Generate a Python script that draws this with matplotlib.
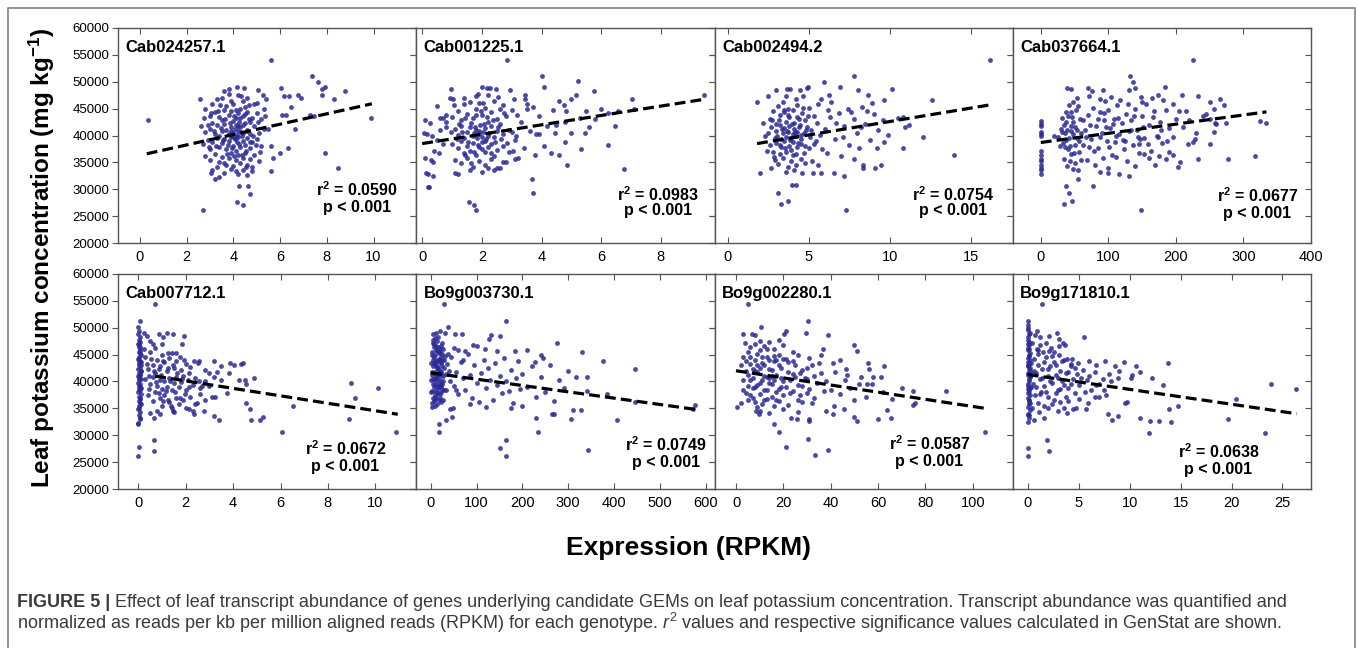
import matplotlib
matplotlib.use("Agg")
import matplotlib.lines as mlines
import matplotlib.pyplot as plt
import numpy as np

plt.rcParams['font.family'] = ['Liberation Sans', 'DejaVu Sans']
plt.rcParams['mathtext.fontset'] = 'custom'
plt.rcParams['mathtext.rm'] = 'Liberation Sans'
plt.rcParams['mathtext.it'] = 'Liberation Sans:italic'
plt.rcParams['mathtext.bf'] = 'Liberation Sans:bold'

# points: (expression in RPKM, leaf K in 1000 mg kg-1)
cab024257_1 = [
    (0.33, 42.8), (2.7, 26.2), (5.6, 54.1), (7.36, 51.0), (7.61, 50.0), (7.79, 48.7), (7.93, 49.1),
    (7.81, 47.6), (8.31, 46.8), (8.8, 48.2), (9.89, 43.3), (7.93, 36.8), (8.5, 34.0), (6.03, 48.9),
    (6.17, 47.3), (6.37, 47.3), (6.76, 47.6), (6.9, 46.9), (6.46, 45.3), (6.09, 43.9), (6.26, 43.8),
    (6.64, 41.3), (6.36, 37.6), (6.01, 36.7), (5.6, 38.0), (5.71, 35.8), (5.6, 33.4), (7.26, 43.8),
    (7.47, 43.7), (4.23, 30.6), (4.61, 30.6), (4.7, 29.2), (4.14, 27.7), (4.43, 27.1), (3.21, 32.0),
    (3.4, 32.2), (3.04, 33.1), (2.56, 46.7), (3.6, 48.3), (3.81, 48.7), (4.14, 49.1), (4.47, 48.8),
    (5.07, 48.4), (5.27, 47.6), (5.4, 46.7), (5.3, 44.9), (5.37, 43.6), (5.5, 41.3),
    (3.3, 46.8), (3.5, 47.0), (3.9, 46.4), (4.2, 47.6), (4.4, 46.5), (4.6, 46.9), (4.9, 45.8),
    (3.1, 45.9), (3.7, 45.5), (4.0, 45.9), (4.5, 45.3), (5.0, 46.1), (2.8, 44.9), (3.0, 43.7),
    (3.2, 44.3), (3.4, 43.4), (3.6, 44.8), (3.8, 43.9), (3.9, 44.5), (4.1, 43.2), (4.2, 44.1),
    (4.3, 45.0), (4.4, 43.6), (4.6, 44.4), (4.8, 43.3), (5.0, 44.2), (5.2, 43.0), (3.5, 42.9),
    (4.0, 42.7), (4.7, 42.5), (3.1, 42.3), (2.9, 42.0), (2.6, 41.8), (2.8, 40.6), (3.0, 41.2),
    (3.2, 40.3), (3.3, 41.9), (3.5, 40.9), (3.6, 42.2), (3.7, 41.0), (3.8, 40.2), (3.9, 41.6),
    (4.0, 40.4), (4.05, 41.3), (4.1, 42.0), (4.15, 40.1), (4.2, 40.8), (4.3, 41.5), (4.4, 40.4),
    (4.5, 42.3), (4.6, 41.0), (4.7, 40.2), (4.9, 41.7), (5.1, 40.5), (5.3, 41.2), (3.4, 40.0),
    (4.25, 42.6), (2.7, 38.5), (2.9, 39.2), (3.0, 37.4), (3.1, 38.8), (3.3, 39.6), (3.4, 37.9),
    (3.5, 38.6), (3.6, 39.4), (3.7, 37.5), (3.8, 38.9), (3.9, 39.7), (4.0, 38.1), (4.05, 39.3),
    (4.1, 37.2), (4.15, 38.7), (4.2, 39.8), (4.3, 37.8), (4.4, 39.0), (4.5, 38.3), (4.6, 39.5),
    (4.7, 37.6), (4.8, 38.8), (5.0, 39.4), (5.2, 38.0), (3.95, 40.0), (4.35, 39.9), (2.8, 36.2),
    (3.0, 35.4), (3.2, 36.6), (3.4, 35.0), (3.5, 36.0), (3.7, 34.6), (3.8, 35.8), (3.9, 36.7),
    (4.0, 34.3), (4.1, 35.5), (4.2, 36.4), (4.3, 34.9), (4.4, 35.9), (4.5, 36.8), (4.6, 34.5),
    (4.7, 35.6), (4.9, 36.3), (5.1, 35.2), (3.3, 34.2), (4.8, 34.1), (3.1, 33.5), (3.6, 33.0),
    (3.9, 33.8), (4.2, 32.9), (4.4, 33.6), (4.6, 32.6), (4.8, 33.4),
    (3.45, 41.4), (3.55, 39.1), (3.65, 43.1), (3.75, 38.3), (3.85, 42.4), (3.95, 37.7), (4.02, 43.6),
    (4.08, 39.6), (4.12, 44.7), (4.18, 41.8), (4.22, 38.4), (4.28, 43.3), (4.32, 40.6), (4.38, 36.3),
    (4.42, 41.9), (4.48, 44.0), (4.52, 37.1), (4.58, 40.8), (4.65, 43.0), (4.72, 38.7), (3.35, 44.6),
    (3.25, 38.1), (3.15, 40.9), (3.05, 44.1), (2.95, 37.8), (4.85, 40.0), (4.95, 38.2), (5.05, 42.6),
    (3.72, 36.6), (4.02, 36.1), (4.33, 47.3), (3.82, 47.8), (4.68, 45.7), (3.42, 45.6), (5.15, 37.0),
    (2.75, 43.2), (3.58, 34.9), (4.12, 33.4), (4.55, 34.2), (3.88, 40.8),
]

cab001225_1 = [
    (2.85, 54.1), (4.0, 51.0), (5.21, 50.1), (0.95, 48.7), (1.99, 49.1), (2.17, 48.9), (2.28, 48.8),
    (2.48, 48.7), (4.1, 49.1), (5.75, 48.3), (9.45, 47.5), (7.02, 46.7), (7.09, 45.0), (5.99, 44.9),
    (6.55, 44.5), (6.24, 44.2), (6.47, 41.8), (6.22, 38.2), (6.78, 33.8), (5.33, 37.4), (5.46, 40.5),
    (5.58, 41.5), (4.99, 46.7), (4.74, 45.6), (4.6, 46.5), (4.82, 44.5), (5.16, 47.6), (4.86, 34.5),
    (4.59, 36.3), (4.33, 36.7), (4.79, 38.7), (4.46, 40.5), (3.82, 40.2), (3.93, 40.2), (3.73, 45.3),
    (3.43, 47.6), (3.43, 46.7), (3.52, 44.9), (3.78, 36.3), (3.68, 32.0), (3.73, 29.3), (3.07, 46.8),
    (2.93, 48.4), (2.71, 45.6), (3.19, 43.9), (3.1, 35.6), (3.05, 37.1), (3.16, 39.9), (2.82, 35.0),
    (1.56, 27.7), (1.75, 27.1), (1.79, 26.2), (0.2, 30.5), (0.23, 30.5), (0.2, 32.8), (0.35, 32.5),
    (0.12, 33.1), (0.09, 35.9), (0.31, 35.4), (0.37, 35.0), (0.57, 36.8), (0.06, 40.5), (0.15, 40.2),
    (0.32, 39.9), (0.09, 42.8), (0.26, 42.4), (0.48, 45.5), (0.59, 43.2), (0.7, 43.3), (0.81, 42.5),
    (0.92, 46.9), (1.03, 46.7), (0.81, 41.5), (1.09, 33.1), (1.2, 32.8),
    (1.0, 43.5), (1.2, 44.6), (1.3, 42.9), (1.4, 45.8), (1.5, 44.0), (1.6, 46.2), (1.7, 43.2),
    (1.8, 44.9), (1.9, 46.0), (2.0, 43.8), (2.1, 45.2), (2.2, 42.6), (2.3, 44.4), (2.4, 46.5),
    (2.5, 43.0), (2.6, 45.0), (2.8, 43.6), (3.0, 44.8), (1.1, 41.2), (1.2, 40.1), (1.3, 41.8),
    (1.4, 39.5), (1.5, 40.7), (1.6, 41.5), (1.7, 39.9), (1.75, 40.4), (1.8, 41.1), (1.85, 39.6),
    (1.9, 40.2), (1.95, 42.0), (2.0, 39.8), (2.05, 40.6), (2.1, 41.4), (2.15, 39.3), (2.2, 40.0),
    (2.3, 41.7), (2.4, 39.7), (2.5, 40.9), (2.6, 42.1), (2.7, 40.3), (2.9, 41.0), (3.1, 39.2),
    (1.0, 38.4), (1.2, 37.6), (1.3, 38.9), (1.4, 36.8), (1.5, 38.1), (1.6, 37.2), (1.7, 38.6),
    (1.8, 36.4), (1.9, 37.8), (2.0, 38.8), (2.1, 36.9), (2.2, 37.9), (2.3, 38.4), (2.4, 36.2),
    (2.5, 37.3), (2.7, 38.0), (2.9, 37.0), (1.1, 35.5), (1.3, 34.8), (1.5, 35.9), (1.7, 34.2),
    (1.9, 35.3), (2.1, 34.6), (2.3, 35.7), (2.5, 34.0), (2.7, 35.1), (1.6, 33.5), (2.0, 33.2),
    (2.4, 33.6), (1.4, 47.0), (2.2, 47.6), (1.8, 47.3), (0.5, 39.2), (0.6, 41.0), (0.7, 38.4),
    (0.8, 43.9), (0.4, 37.2), (3.3, 42.6), (3.6, 40.8), (3.9, 43.7), (4.2, 41.7), (4.4, 44.8),
    (4.8, 42.6), (5.0, 40.4), (5.3, 43.3), (5.5, 44.6), (4.1, 38.0), (3.4, 37.6), (3.2, 35.8),
    (2.6, 33.9),
    (1.35, 40.6), (1.45, 43.3), (1.55, 38.7), (1.65, 42.4), (1.72, 36.9), (1.78, 41.6), (1.82, 43.9),
    (1.88, 38.2), (1.92, 40.9), (1.98, 44.5), (2.02, 37.4), (2.08, 42.2), (2.12, 39.0), (2.18, 43.4),
    (2.25, 40.5), (2.32, 36.7), (2.38, 42.9), (2.45, 38.8), (2.55, 41.6), (2.65, 39.3), (1.25, 42.2),
    (1.15, 39.4), (1.05, 45.6), (0.95, 40.7), (2.75, 44.2), (2.85, 38.6), (3.0, 40.6), (1.62, 34.9),
    (2.22, 33.9), (1.88, 47.8), (2.55, 47.1), (1.45, 36.3), (2.05, 46.1), (3.5, 45.8), (4.5, 42.0),
    (5.8, 43.0),
]

cab002494_2 = [
    (16.2, 54.1), (7.8, 51.0), (5.96, 50.0), (4.95, 49.1), (4.87, 48.9), (6.94, 49.1), (8.06, 48.4),
    (10.13, 48.7), (6.24, 47.6), (5.78, 46.8), (8.63, 47.6), (9.66, 46.6), (12.64, 46.6), (1.81, 46.3),
    (2.46, 47.3), (3.0, 48.4), (3.65, 48.7), (3.83, 48.6), (4.48, 48.4), (4.64, 47.3), (10.83, 43.5),
    (10.96, 41.6), (12.07, 39.8), (14.0, 36.3), (10.83, 37.7), (9.66, 38.7), (9.46, 34.5), (9.1, 33.9),
    (8.37, 34.6), (8.37, 33.9), (7.8, 35.7), (7.2, 32.5), (6.55, 33.1), (5.78, 33.1), (5.26, 33.0),
    (7.33, 26.2), (3.96, 30.8), (4.22, 30.8), (3.11, 29.3), (3.26, 27.2), (3.7, 27.8), (2.41, 37.1),
    (2.02, 33.1), (2.67, 34.0),
    (2.6, 43.0), (2.8, 44.6), (3.0, 42.1), (3.1, 45.5), (3.2, 43.8), (3.4, 46.2), (3.5, 44.3),
    (3.6, 42.6), (3.7, 45.0), (3.8, 43.4), (4.0, 44.8), (4.1, 42.3), (4.3, 45.6), (4.4, 43.1),
    (4.6, 44.2), (4.8, 42.8), (5.0, 45.2), (5.3, 43.6), (2.5, 40.4), (2.7, 41.6), (2.9, 39.6),
    (3.0, 40.8), (3.2, 41.9), (3.3, 39.3), (3.4, 40.5), (3.5, 41.4), (3.6, 39.8), (3.7, 40.6),
    (3.8, 41.8), (3.9, 39.5), (4.0, 40.3), (4.1, 41.2), (4.2, 39.9), (4.3, 40.7), (4.4, 41.6),
    (4.5, 39.4), (4.7, 40.4), (4.9, 41.5), (5.1, 39.7), (2.6, 38.2), (2.8, 37.0), (3.0, 38.6),
    (3.2, 36.5), (3.3, 37.8), (3.5, 38.9), (3.6, 36.9), (3.8, 38.1), (3.9, 37.3), (4.0, 38.7),
    (4.2, 36.6), (4.3, 37.9), (4.5, 38.4), (4.7, 36.8), (5.0, 37.6), (5.3, 38.5), (2.9, 35.5),
    (3.1, 34.7), (3.4, 35.8), (3.7, 34.2), (3.9, 35.3), (4.2, 34.5), (4.5, 35.6), (4.8, 34.9),
    (5.2, 35.2), (5.6, 34.6), (3.6, 33.3), (4.1, 33.6), (4.6, 33.0), (6.0, 41.2), (6.3, 43.5),
    (6.6, 39.4), (6.9, 44.2), (7.2, 41.8), (7.5, 38.2), (7.8, 43.0), (8.0, 40.4), (8.3, 45.3),
    (8.5, 42.1), (8.8, 39.2), (9.0, 44.0), (9.3, 41.0), (9.6, 42.8), (7.0, 36.2), (8.1, 37.6),
    (6.1, 36.8), (5.6, 45.8), (6.4, 46.3), (7.4, 45.0), (8.6, 44.6), (5.7, 40.1), (5.5, 42.4),
    (9.9, 40.1), (10.5, 43.3), (11.2, 41.9),
    (3.05, 39.9), (3.15, 42.9), (3.25, 38.2), (3.35, 41.2), (3.45, 44.8), (3.55, 37.6), (3.65, 40.9),
    (3.75, 43.8), (3.85, 39.1), (3.95, 42.2), (4.05, 36.3), (4.15, 40.6), (4.25, 43.4), (4.35, 38.6),
    (4.45, 42.0), (4.55, 40.1), (4.65, 45.1), (4.75, 38.0), (4.85, 41.1), (4.95, 43.6), (2.75, 42.9),
    (2.85, 36.0), (5.15, 41.0), (5.45, 39.0), (5.8, 37.4), (6.2, 44.8), (6.7, 42.4), (7.1, 39.8),
    (7.6, 44.4), (8.2, 41.6), (8.9, 46.0), (9.2, 37.6), (3.6, 47.4), (4.2, 46.8), (2.3, 40.0),
    (2.2, 42.4),
]

cab037664_1 = [
    (225, 54.1), (132, 51.0), (136, 50.0), (39, 48.9), (45, 48.7), (70, 48.9), (76, 48.3), (92, 48.4),
    (139, 48.9), (130, 48.4), (149, 47.2), (173, 47.5), (184, 49.1), (181, 46.6), (209, 47.6),
    (233, 47.3), (266, 46.7), (250, 46.2), (271, 45.6), (256, 44.9), (215, 44.5), (240, 43.6),
    (251, 43.0), (258, 42.4), (274, 42.4), (325, 42.7), (333, 42.4), (317, 36.1), (277, 35.7),
    (232, 35.7), (203, 34.2), (206, 35.0), (196, 36.3), (169, 34.5), (185, 35.7), (218, 38.5),
    (229, 39.4), (251, 38.5), (257, 40.6), (174, 39.8), (187, 39.0), (147, 39.4), (153, 36.6),
    (130, 32.5), (116, 32.8), (99, 33.0), (87, 33.2), (77, 30.6), (55, 32.0), (37, 30.6), (42, 29.3),
    (34, 27.2), (46, 27.8), (148, 26.2),
    (0, 42.7), (0, 42.2), (0, 41.8), (0, 40.6), (0, 40.2), (0, 39.9), (0, 37.1), (0, 36.4),
    (0, 35.7), (0, 35.2), (0, 34.5), (0, 34.0), (0, 33.5), (0, 32.8),
    (25, 39.8), (30, 41.2), (33, 38.6), (36, 40.4), (38, 42.6), (40, 37.4), (42, 39.6), (44, 41.8),
    (45, 36.5), (46, 43.4), (48, 40.2), (50, 38.3), (52, 44.7), (54, 41.1), (56, 39.0), (58, 43.0),
    (35, 35.6), (39, 34.4), (43, 35.2), (47, 33.8), (50, 34.9), (55, 33.5), (60, 35.4), (38, 44.4),
    (42, 45.6), (47, 46.2), (53, 47.0), (20, 40.0), (28, 38.0), (32, 43.2), (65, 41.0), (70, 43.8),
    (75, 39.4), (78, 45.2), (82, 41.7), (85, 37.6), (88, 44.3), (90, 40.5), (93, 42.9), (95, 46.4),
    (98, 39.0), (100, 44.8), (103, 41.4), (105, 36.4), (108, 43.1), (110, 38.8), (113, 45.6),
    (116, 40.2), (120, 42.4), (123, 37.4), (126, 44.0), (130, 40.8), (133, 42.8), (136, 38.2),
    (140, 45.0), (143, 41.0), (146, 36.8), (150, 43.6), (153, 39.6), (156, 45.8), (160, 42.0),
    (163, 37.2), (168, 44.5), (172, 40.0), (176, 42.6), (180, 38.6), (185, 44.8), (190, 41.4),
    (195, 39.8), (200, 43.0), (210, 41.6), (220, 42.8), (230, 40.4), (245, 44.0), (260, 42.2),
    (68, 35.4), (80, 34.6), (92, 35.8), (100, 34.0), (112, 36.0), (128, 35.2), (140, 34.4),
    (160, 35.8), (175, 36.2), (72, 47.4), (88, 46.8), (104, 47.2), (118, 46.6), (150, 46.2),
    (165, 46.9), (195, 45.8), (62, 38.2), (72, 37.8), (124, 39.0), (145, 38.4),
    (31, 40.6), (34, 42.0), (37, 39.2), (39, 41.0), (41, 43.6), (43, 38.0), (45, 40.8), (47, 42.6),
    (49, 36.8), (51, 41.6), (53, 39.6), (57, 37.0), (59, 40.4), (36, 37.8), (44, 44.4), (55, 45.4),
    (62, 42.8), (67, 39.8), (73, 42.0), (79, 37.2), (84, 43.0), (87, 39.8), (94, 44.2), (97, 41.6),
    (101, 37.8), (107, 42.2), (111, 40.0), (115, 43.2), (121, 39.2), (129, 45.8), (134, 41.0),
    (138, 43.6), (144, 39.8), (152, 41.6), (158, 38.4), (166, 43.4), (178, 41.0), (190, 37.0),
    (205, 44.6), (225, 38.8),
]

cab007712_1 = [
    (0.71, 54.4), (0.06, 51.2), (0.0, 50.2), (0.24, 49.1), (0.38, 48.5), (0.85, 48.8), (1.2, 49.1),
    (1.06, 48.2), (1.48, 48.8), (1.91, 48.4), (1.85, 46.9), (0.61, 46.9), (1.94, 44.0), (1.23, 45.3),
    (1.41, 45.3), (1.6, 45.3), (0.71, 46.3), (2.58, 43.8), (3.18, 43.8), (3.49, 42.9), (3.88, 43.5),
    (4.03, 43.1), (4.35, 43.2), (4.42, 43.5), (3.82, 41.5), (4.24, 40.2), (4.52, 40.2), (4.9, 40.7),
    (4.55, 39.5), (3.73, 37.9), (4.55, 36.0), (4.73, 34.8), (4.76, 32.8), (5.13, 32.9), (5.25, 33.4),
    (6.54, 35.4), (6.05, 30.6), (8.97, 39.8), (9.15, 36.9), (8.9, 33.1), (10.13, 38.7), (10.88, 30.6),
    (3.18, 33.6), (3.39, 32.9), (3.12, 37.1), (3.22, 37.1), (2.75, 34.5), (2.33, 34.0), (2.12, 34.8),
    (2.47, 36.0), (1.48, 34.5), (1.37, 35.4), (1.03, 36.4), (0.8, 34.6), (0.68, 33.2), (0.66, 29.2),
    (0.66, 27.1), (0.04, 27.8), (0.0, 26.2), (0.07, 33.2), (0.0, 32.0),
    (0.0, 32.2), (0.05, 33.0), (0.02, 33.7), (0.08, 34.3), (0.0, 34.9), (0.04, 35.4), (0.1, 35.9),
    (0.01, 36.3), (0.06, 36.8), (0.03, 37.2), (0.09, 37.6), (0.0, 38.0), (0.05, 38.4), (0.12, 38.8),
    (0.02, 39.1), (0.07, 39.5), (0.0, 39.8), (0.04, 40.2), (0.1, 40.5), (0.01, 40.9), (0.06, 41.2),
    (0.03, 41.6), (0.09, 41.9), (0.0, 42.3), (0.05, 42.6), (0.11, 43.0), (0.02, 43.4), (0.07, 43.8),
    (0.0, 44.2), (0.04, 44.6), (0.09, 45.0), (0.01, 45.5), (0.06, 45.9), (0.03, 46.4), (0.0, 46.9),
    (0.08, 47.3), (0.02, 47.8), (0.05, 48.3), (0.0, 48.8), (0.03, 49.4), (0.07, 36.0), (0.02, 40.7),
    (0.1, 43.6), (0.04, 38.6), (0.08, 41.4),
    (0.3, 44.6), (0.4, 42.4), (0.5, 45.5), (0.6, 43.0), (0.7, 41.6), (0.8, 44.0), (0.9, 42.8),
    (1.0, 45.0), (1.1, 43.6), (1.2, 41.9), (1.3, 44.3), (1.5, 42.6), (1.6, 43.9), (1.8, 42.1),
    (2.0, 43.2), (2.2, 42.7), (2.5, 43.4), (2.8, 42.2), (0.3, 40.4), (0.5, 39.6), (0.6, 40.8),
    (0.8, 39.2), (0.9, 40.3), (1.0, 38.6), (1.1, 40.0), (1.2, 39.0), (1.3, 40.6), (1.4, 38.4),
    (1.5, 39.7), (1.6, 40.9), (1.7, 38.9), (1.8, 39.9), (1.9, 41.0), (2.0, 38.5), (2.1, 40.2),
    (2.3, 39.3), (2.4, 40.6), (2.6, 38.8), (2.8, 40.1), (3.0, 39.1), (3.2, 40.8), (0.4, 37.5),
    (0.6, 36.4), (0.7, 38.0), (0.9, 36.9), (1.0, 35.5), (1.1, 37.4), (1.3, 36.2), (1.4, 35.1),
    (1.6, 37.0), (1.7, 35.8), (1.9, 36.6), (2.0, 35.0), (2.2, 37.2), (2.4, 35.9), (2.6, 37.7),
    (2.8, 36.5), (3.3, 41.8), (3.5, 40.3), (0.5, 34.2), (0.9, 34.0), (1.5, 34.4), (2.3, 34.6),
    (0.02, 35.0), (0.06, 39.0), (0.0, 41.0), (0.04, 43.0), (0.08, 45.3), (0.01, 47.0), (0.05, 37.0),
    (0.09, 42.0), (0.03, 44.0), (0.07, 46.5), (0.35, 43.2), (0.45, 41.0), (0.55, 44.2), (0.65, 42.0),
    (0.75, 39.9), (0.85, 42.4), (0.95, 41.2), (1.05, 43.9), (1.15, 38.2), (1.25, 42.6), (1.35, 40.1),
    (1.45, 43.0), (1.55, 38.0), (1.65, 41.6), (1.75, 44.6), (1.85, 40.5), (1.95, 37.6), (2.15, 41.5),
    (2.35, 43.8), (2.55, 40.0), (0.45, 38.6), (0.85, 37.8), (1.25, 36.6), (1.75, 36.9), (2.15, 38.9),
    (2.7, 39.2), (0.25, 46.0), (0.5, 47.6), (1.0, 47.0), (3.0, 41.6),
]

bo9g003730_1 = [
    (27.6, 54.4), (164, 51.2), (37, 50.2), (4.4, 48.8), (11.6, 49.1), (18.9, 49.3), (29.8, 49.1),
    (51.6, 48.9), (67.5, 48.8), (130.7, 48.6), (127.8, 47.9), (151, 48.4), (50.8, 46.3), (74.8, 45.7),
    (91.5, 46.8), (118, 46.1), (145, 45.7), (184, 45.6), (211, 45.9), (276, 47.1), (331, 45.5),
    (377, 43.8), (244, 44.4), (227, 43.7), (447, 42.3), (318, 40.8), (340, 40.8), (342, 38.3),
    (385, 37.7), (445, 36.2), (576, 35.6), (572, 34.8), (407, 32.8), (329, 34.7), (311, 34.7),
    (305, 33.1), (264, 34.0), (269, 33.9), (230, 33.3), (233, 30.6), (343, 27.2), (164, 29.2),
    (164, 26.2), (150, 27.6), (16.7, 30.6), (16.7, 32.0), (32.7, 32.8), (45.8, 33.4), (41.4, 34.8),
    (49, 35.1),
    (2, 36.0), (3, 38.2), (4, 40.5), (5, 42.8), (6, 44.6), (7, 46.4), (8, 37.4), (9, 39.6), (10, 41.7),
    (11, 43.9), (12, 45.8), (13, 47.6), (14, 35.8), (15, 38.8), (16, 40.9), (17, 42.2), (18, 44.2),
    (19, 46.0), (20, 37.0), (21, 39.2), (22, 41.3), (23, 43.4), (24, 45.2), (25, 47.2), (26, 36.6),
    (27, 40.0), (28, 42.6), (30, 44.8), (1, 43.4), (3, 45.5), (5, 47.8), (7, 39.0), (9, 36.8),
    (11, 41.0), (13, 42.6), (15, 44.0), (17, 45.3), (19, 40.3), (21, 38.0), (23, 41.8), (25, 39.5),
    (6, 41.6), (10, 35.4), (14, 42.9), (18, 39.8), (22, 44.6), (4, 47.2), (8, 43.0), (12, 40.2),
    (16, 37.8), (20, 42.0), (24, 38.6), (2, 41.2), (29, 38.4), (32, 41.4), (35, 43.2), (3, 35.2),
    (11, 46.6), (27, 46.0), (15, 48.2),
    (40, 42.0), (45, 44.6), (50, 39.2), (55, 41.8), (60, 37.6), (65, 43.6), (70, 40.6), (75, 38.4),
    (80, 45.2), (85, 41.2), (90, 37.0), (95, 43.0), (100, 39.8), (105, 36.2), (110, 41.6), (115, 44.0),
    (120, 38.8), (125, 42.6), (130, 40.2), (135, 36.6), (140, 43.4), (145, 39.4), (150, 41.0),
    (155, 37.8), (160, 44.4), (165, 40.0), (170, 38.2), (175, 42.2), (180, 36.0), (185, 40.6),
    (190, 43.8), (195, 38.6), (200, 41.4), (210, 39.0), (220, 42.8), (230, 37.2), (240, 40.8),
    (250, 38.0), (260, 43.0), (270, 36.4), (280, 40.2), (290, 38.8), (300, 42.0), (240, 45.0),
    (200, 35.4), (175, 35.0), (120, 35.2), (85, 35.8), (60, 45.8), (100, 46.6),
    (1, 38.0), (2, 45.0), (3, 41.8), (4, 37.0), (5, 39.6), (6, 47.0), (7, 43.4), (8, 40.4), (9, 45.0),
    (10, 38.2), (11, 37.2), (12, 43.6), (13, 39.2), (14, 45.6), (15, 41.4), (16, 46.4), (17, 39.0),
    (18, 36.6), (19, 43.6), (20, 45.4), (21, 41.6), (22, 36.2), (23, 46.6), (24, 42.8), (26, 41.0),
    (28, 44.0), (1, 40.2), (4, 44.0), (7, 36.4), (10, 48.0), (13, 38.0), (16, 42.6), (19, 37.6),
    (22, 39.6), (25, 44.0), (34, 38.4), (38, 45.2), (42, 40.0), (55, 38.4), (70, 44.0),
]

bo9g002280_1 = [
    (5.0, 54.4), (10.7, 50.2), (30.4, 51.2), (38.7, 48.6), (29.5, 49.0), (21.3, 49.3), (20.1, 48.9),
    (18.3, 47.7), (2.8, 48.8), (3.7, 47.1), (6.7, 48.9), (8.0, 48.7), (10.3, 47.6), (49.7, 46.7),
    (51.2, 45.7), (36.9, 46.1), (40.9, 43.4), (55.6, 43.4), (62.7, 42.9), (56.1, 42.3), (46.4, 42.3),
    (46.7, 41.2), (52.9, 40.9), (55.2, 39.5), (57.4, 39.5), (61.3, 40.8), (74.6, 38.3), (88.5, 38.3),
    (75.5, 36.0), (74.6, 35.7), (63.6, 34.7), (65.4, 33.2), (59.9, 33.1), (49.7, 33.4), (51.2, 32.6),
    (45.8, 34.8), (40.9, 33.9), (38.2, 34.6), (41.4, 35.4), (30.9, 33.1), (30.7, 32.6), (30.2, 29.3),
    (38.7, 27.2), (33.4, 26.3), (21.0, 27.8), (18.3, 30.6), (16.2, 32.1), (23.3, 33.2), (25.8, 33.1),
    (105, 30.6), (0.2, 35.3), (2.0, 36.0), (8.5, 34.5), (9.9, 34.0),
    (3, 44.6), (4, 42.0), (5, 45.5), (6, 43.2), (7, 40.6), (8, 44.0), (9, 41.8), (10, 45.8),
    (11, 43.4), (12, 41.0), (13, 44.6), (14, 42.4), (15, 39.6), (16, 43.8), (17, 41.2), (18, 45.0),
    (19, 42.6), (20, 40.0), (22, 43.6), (24, 41.4), (26, 39.4), (28, 42.2), (30, 40.4), (32, 43.0),
    (34, 39.8), (36, 41.6), (5, 39.2), (6, 37.4), (7, 38.8), (8, 36.2), (9, 39.4), (10, 37.6),
    (11, 35.8), (12, 38.4), (13, 36.8), (14, 39.8), (15, 37.2), (16, 35.4), (17, 38.0), (18, 36.4),
    (19, 39.0), (20, 37.4), (22, 35.6), (24, 38.2), (26, 36.6), (28, 39.2), (30, 37.8), (32, 36.0),
    (3, 40.2), (4, 37.8), (6, 46.4), (8, 47.0), (12, 46.6), (14, 47.4), (16, 46.0), (20, 46.8),
    (24, 45.4), (10, 34.6), (14, 34.2), (20, 34.8), (26, 34.4), (2, 43.0), (3, 38.4), (7, 42.4),
    (9, 43.0), (11, 40.2), (13, 40.8), (15, 42.2), (17, 44.0), (21, 44.2), (23, 40.2), (25, 43.0),
    (27, 37.4), (29, 40.6), (31, 38.6), (33, 41.0), (38, 40.0), (40, 38.4), (42, 41.8), (44, 37.6),
    (46, 40.2), (48, 38.8), (50, 36.6), (52, 39.6), (55, 37.2), (58, 40.8), (62, 38.0), (66, 36.8),
    (70, 38.8), (44, 44.0), (36, 45.0),
    (4, 43.8), (5, 41.2), (6, 44.6), (7, 37.0), (8, 42.0), (9, 45.2), (10, 39.8), (11, 44.6),
    (12, 43.0), (13, 38.4), (14, 44.0), (15, 41.0), (16, 40.2), (17, 36.6), (18, 43.0), (19, 40.6),
    (20, 44.2), (21, 39.0), (22, 41.8), (23, 37.8), (24, 43.8), (25, 40.8), (26, 45.0), (27, 41.6),
    (28, 36.2), (30, 42.6), (31, 44.4), (33, 37.0), (35, 43.4), (37, 38.2), (6, 40.2), (8, 39.0),
    (10, 42.6), (12, 36.6), (14, 40.6), (16, 44.8), (18, 38.6), (5, 36.6), (9, 35.2), (13, 46.0),
]

bo9g171810_1 = [
    (1.41, 54.4), (0.0, 51.3), (0.0, 50.5), (0.92, 49.3), (1.21, 48.3), (2.13, 48.5), (2.89, 49.1),
    (3.11, 47.9), (1.8, 47.1), (3.44, 47.1), (5.51, 48.3), (3.11, 46.6), (3.64, 46.7), (2.62, 45.4),
    (0.98, 45.9), (2.07, 45.7), (4.36, 44.1), (3.84, 44.2), (4.26, 43.2), (4.92, 43.5), (6.0, 43.8),
    (6.66, 43.1), (7.61, 43.8), (8.52, 42.9), (9.44, 43.7), (10.59, 42.9), (13.77, 43.4), (10.2, 41.3),
    (10.1, 40.7), (12.2, 40.7), (13.3, 39.3), (8.85, 40.7), (7.38, 40.4), (8.2, 40.1), (6.72, 39.4),
    (7.44, 38.4), (7.7, 37.4), (7.0, 37.1), (6.56, 37.1), (9.57, 36.0), (9.77, 36.1), (13.9, 34.9),
    (14.75, 35.4), (14.1, 32.5), (12.9, 32.7), (11.97, 32.7), (10.98, 33.2), (11.9, 30.5), (8.85, 33.5),
    (8.3, 32.8), (7.87, 34.0), (5.9, 36.0), (5.67, 34.8), (4.69, 35.1), (3.84, 34.1), (1.64, 33.3),
    (1.87, 29.2), (2.13, 27.1), (0.0, 27.6), (0.0, 26.2), (20.4, 36.8), (23.9, 39.6), (26.3, 38.6),
    (19.7, 33.0), (23.3, 30.5),
    (0.0, 32.4), (0.1, 33.2), (0.05, 34.0), (0.2, 34.7), (0.0, 35.3), (0.1, 35.9), (0.15, 36.4),
    (0.05, 36.9), (0.25, 37.4), (0.0, 37.9), (0.1, 38.3), (0.2, 38.8), (0.05, 39.2), (0.0, 39.6),
    (0.15, 40.0), (0.1, 40.4), (0.25, 40.8), (0.0, 41.2), (0.05, 41.6), (0.2, 42.0), (0.1, 42.4),
    (0.0, 42.8), (0.15, 43.2), (0.05, 43.6), (0.25, 44.0), (0.0, 44.4), (0.1, 44.8), (0.2, 45.3),
    (0.05, 45.8), (0.0, 46.3), (0.15, 46.8), (0.1, 47.3), (0.0, 47.8), (0.05, 48.3), (0.1, 48.9),
    (0.0, 49.5), (0.05, 50.0), (0.3, 41.4), (0.3, 43.4), (0.3, 39.0), (0.2, 36.0), (0.15, 46.0),
    (0.6, 44.2), (0.8, 41.6), (1.0, 43.0), (1.2, 40.4), (1.4, 42.4), (1.6, 39.2), (1.8, 44.6),
    (2.0, 41.0), (2.2, 42.8), (2.4, 39.8), (2.6, 43.6), (2.8, 41.2), (3.0, 38.4), (3.2, 42.0),
    (3.4, 40.0), (3.6, 44.0), (3.8, 41.6), (4.0, 38.8), (4.2, 42.8), (4.4, 40.4), (4.6, 37.8),
    (4.8, 41.4), (5.0, 39.4), (5.4, 42.2), (5.8, 40.2), (6.2, 38.4), (6.6, 41.8), (7.0, 39.6),
    (0.7, 37.4), (1.0, 36.0), (1.3, 38.0), (1.6, 35.4), (2.0, 37.2), (2.4, 35.8), (2.8, 37.8),
    (3.2, 36.2), (3.6, 35.0), (4.0, 36.4), (4.4, 34.8), (5.0, 36.8), (0.5, 39.6), (0.9, 46.0),
    (1.5, 45.4), (2.3, 46.2), (3.1, 45.0), (1.1, 34.4), (8.0, 41.4), (9.0, 42.0), (11.0, 41.8),
    (0.0, 33.8), (0.1, 36.6), (0.05, 38.6), (0.2, 41.0), (0.0, 43.0), (0.1, 45.0), (0.05, 47.0),
    (0.2, 49.0), (0.15, 33.8), (0.25, 42.6), (0.6, 42.0), (0.8, 39.0), (1.0, 45.2), (1.2, 37.6),
    (1.4, 40.6), (1.6, 43.6), (1.8, 38.0), (2.0, 42.4), (2.2, 40.0), (2.4, 44.8), (2.6, 36.6),
    (2.8, 43.0), (3.0, 40.6), (3.2, 38.6), (3.4, 43.8), (3.6, 39.4), (3.8, 37.2), (4.0, 41.8),
    (4.2, 39.6), (4.6, 42.6), (5.2, 40.6), (5.6, 38.0), (6.0, 41.0), (0.4, 47.2), (0.7, 48.6),
    (1.2, 46.8), (2.0, 35.0), (3.0, 34.6), (0.4, 35.0), (0.6, 32.8),
]

genes = ["Cab024257.1", "Cab001225.1", "Cab002494.2", "Cab037664.1",
         "Cab007712.1", "Bo9g003730.1", "Bo9g002280.1", "Bo9g171810.1"]
panel_points = [cab024257_1, cab001225_1, cab002494_2, cab037664_1,
                cab007712_1, bo9g003730_1, bo9g002280_1, bo9g171810_1]
r2_values = ["0.0590", "0.0983", "0.0754", "0.0677", "0.0672", "0.0749", "0.0587", "0.0638"]
# dashed fitted lines: (x start, x end, K start, K end), K in 1000 mg kg-1
fit_lines = [(0.29, 9.93, 36.6, 45.9), (0.0, 9.41, 38.5, 46.7), (1.81, 16.2, 38.5, 45.7),
             (0.0, 334, 38.7, 44.4), (0.71, 10.95, 41.0, 33.9), (0.0, 579, 41.6, 34.8),
             (0.0, 105.3, 42.0, 35.0), (0.0, 26.4, 41.3, 34.0)]

# per-panel axis layout: x limits, x ticks, r2 text anchor (axes fraction)
xlims = [(-0.94, 11.83), (-0.2, 9.8), (-0.82, 17.6), (-41.5, 400),
         (-0.86, 11.73), (-32, 619.6), (-9.1, 116.9), (-1.47, 27.8)]
xticks = [np.arange(0, 11, 2), np.arange(0, 9, 2), np.arange(0, 16, 5), np.arange(0, 401, 100),
          np.arange(0, 11, 2), np.arange(0, 601, 100), np.arange(0, 101, 20), np.arange(0, 26, 5)]
stat_pos = [(0.80, 0.25, 0.167), (0.81, 0.227, 0.153), (0.80, 0.227, 0.153), (0.82, 0.218, 0.139),
            (0.762, 0.187, 0.103), (0.836, 0.206, 0.121), (0.72, 0.21, 0.126), (0.69, 0.174, 0.09)]

dot_color = '#2a2a96'
W, H = 1358, 648
fig, axes = plt.subplots(2, 4, sharey=True, figsize=(W / 100, H / 100), dpi=100)
fig.subplots_adjust(left=118 / W, right=1311 / W, top=1 - 28 / H, bottom=1 - 489 / H,
                    wspace=0, hspace=0.144)

for i, ax in enumerate(axes.flat):
    pts = np.array(panel_points[i], dtype=float)
    ax.scatter(pts[:, 0], pts[:, 1] * 1000, s=12, color=dot_color, alpha=0.85,
               linewidths=0, zorder=2)
    x0, x1, y0, y1 = fit_lines[i]
    ax.plot([x0, x1], [y0 * 1000, y1 * 1000], color='black', lw=2.3,
            dashes=(3.4, 1.6), zorder=3)

    ax.set_xlim(xlims[i])
    ax.set_xticks(xticks[i])
    ax.set_ylim(20000, 60000)
    ax.set_yticks(np.arange(20000, 60001, 5000))

    ax.tick_params(axis='x', direction='in', top=True, bottom=True, length=4,
                   width=0.8, color='#555555', labelsize=10.5, pad=5)
    ax.tick_params(axis='y', direction='out', left=True, right=True, length=4,
                   width=0.8, color='#555555', labelsize=9.5, pad=2)
    # right-side y ticks point into the panel, like the left ones point out
    for t in ax.yaxis.get_major_ticks():
        t.tick2line.set_marker(mlines.TICKLEFT)
    for sp in ax.spines.values():
        sp.set_color('#555555')
        sp.set_linewidth(1.0)

    ax.text(0.025, 0.91, genes[i], transform=ax.transAxes, fontsize=12,
            fontweight='bold', ha='left', va='center')
    sx, ry, py = stat_pos[i]
    ax.text(sx, ry, r'$\mathbf{r^2}$ = ' + r2_values[i], transform=ax.transAxes,
            fontsize=11.5, fontweight='bold', ha='center', va='center')
    ax.text(sx, py, 'p < 0.001', transform=ax.transAxes, fontsize=11.5,
            fontweight='bold', ha='center', va='center')

# overlay in pixel coordinates for labels, caption and the frame
ov = fig.add_axes([0, 0, 1, 1])
ov.set_xlim(0, W)
ov.set_ylim(H, 0)
ov.axis('off')

frame_c = '#8a8a8a'
ov.plot([8, 8, 1355, 1355], [H + 5, 8, 8, H + 5], color=frame_c, lw=1.3, clip_on=False)

ov.text(42, 258, r'Leaf potassium concentration (mg kg$^{\mathbf{-1}}$)', rotation=90,
        fontsize=17.5, fontweight='bold', ha='center', va='center')
ov.text(688, 548, 'Expression (RPKM)', fontsize=19, fontweight='bold',
        ha='center', va='center')

cap_c = '#3a3a3a'
cap_fs = 13.0
t1 = ov.text(17, 611, 'FIGURE 5 |', fontsize=cap_fs, fontweight='bold', color=cap_c,
             ha='left', va='bottom')
ov.annotate(' Effect of leaf transcript abundance of genes underlying candidate GEMs on leaf '
            'potassium concentration. Transcript abundance was quantified and',
            xy=(1, 0), xycoords=t1, fontsize=cap_fs, color=cap_c, ha='left', va='bottom')
ov.text(17, 635, 'normalized as reads per kb per million aligned reads (RPKM) for each genotype. '
        r'$\mathit{r}^{2}$ values and respective significance values calculated in GenStat are shown.',
        fontsize=cap_fs, color=cap_c, ha='left', va='bottom')

fig.savefig('out.png', dpi=100)
